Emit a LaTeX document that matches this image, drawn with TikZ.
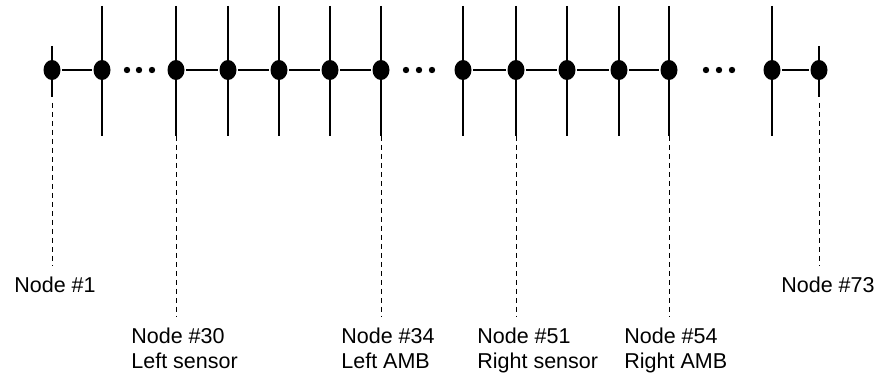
\documentclass[tikz,border=0pt]{standalone}
\usepackage{fontspec}
\setmainfont{Liberation Sans}
\usetikzlibrary{shapes.geometric}

\begin{document}
\begin{tikzpicture}[x=1pt, y=-1pt, line width=2.8pt]
\tikzstyle{dot}=[ellipse, fill=black, inner sep=0pt, minimum width=17pt, minimum height=20pt]
\tikzstyle{tag}=[anchor=north west, inner sep=0pt, align=left, font=\fontsize{21.5}{25}\selectfont]
\tikzstyle{lead}=[line width=1pt, dash pattern=on 5pt off 4pt, shorten >=10pt]
\useasboundingbox (0,0) rectangle (879,382);
% sensor nodes on the shaft
\foreach \x/\n in {52/1, 102/2, 176/30, 228/31, 279/32, 330/33, 381/34,
                   463/50, 516/51, 567/52, 619/53, 669/54, 772/72, 819/73}
  \node[dot] (n\n) at (\x,70) {};
\draw (n1) -- (n2);
\draw (n30) -- (n31) -- (n32) -- (n33) -- (n34);
\draw (n50) -- (n51) -- (n52) -- (n53) -- (n54);
\draw (n72) -- (n73);
% elements
\foreach \n in {2,30,31,32,33,34,50,51,52,53,54,72}
  \draw (n\n.center) +(0,-64) -- +(0,66) coordinate (b\n);
\foreach \n in {1,73}
  \draw (n\n.center) +(0,-24) -- +(0,27) coordinate (b\n);
% skipped nodes
\foreach \x in {127,139,152,406,419,432,706,719,732}
  \fill (\x,70) circle (3.2pt);
% labels
\node[tag] (l1)  at (13,276)  {Node \#1};
\node[tag] (l30) at (130,327) {Node \#30\\Left sensor};
\node[tag] (l34) at (340,327) {Node \#34\\Left AMB};
\node[tag] (l51) at (476,327) {Node \#51\\Right sensor};
\node[tag] (l54) at (623,327) {Node \#54\\Right AMB};
\node[tag] (l73) at (780,276) {Node \#73};
\draw[lead] (b1) ++(0,6) -- (b1 |- l1.north);
\draw[lead] (b73) ++(0,6) -- (b73 |- l73.north);
\foreach \n in {30,34,51,54}
  \draw[lead] (b\n) -- (b\n |- l\n.north);
\end{tikzpicture}
\end{document}
